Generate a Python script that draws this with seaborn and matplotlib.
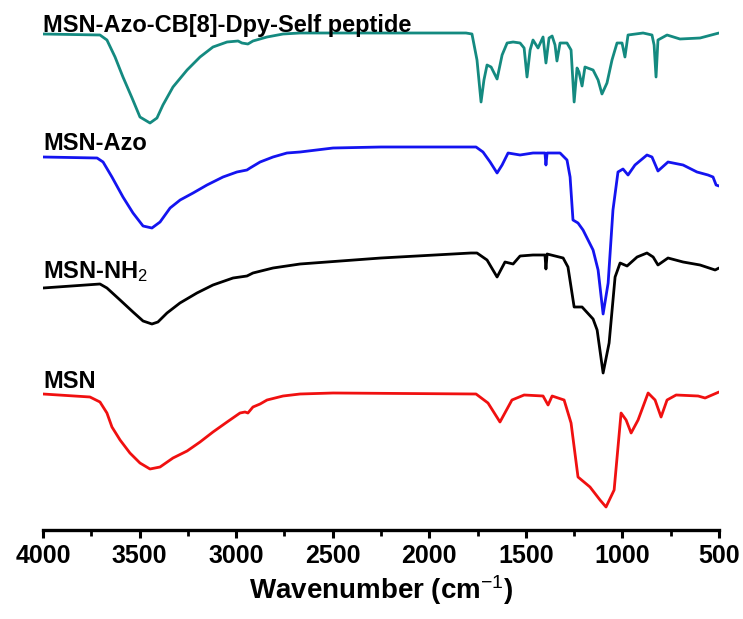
import numpy as np
import pandas as pd
import matplotlib
matplotlib.use("Agg")
import matplotlib.pyplot as plt
from matplotlib.ticker import MultipleLocator
import seaborn as sns

# ---- data (transmittance in arbitrary offset units) ----
labels = ["MSN-Azo-CB[8]-Dpy-Self peptide", "MSN-Azo", "MSN-NH$_2$", "MSN"]

peptide_wn = [4000, 3705, 3669, 3627, 3586, 3539, 3498, 3446, 3410, 3379, 3327, 3254, 3187, 3120,
              3047, 2990, 2970, 2939, 2913, 2840, 2757, 2669,
              1810, 1779, 1753, 1732, 1717, 1701, 1680, 1649, 1623, 1597, 1566, 1530, 1509, 1494,
              1478, 1463, 1437, 1411, 1396, 1380, 1364, 1349, 1339, 1323, 1287, 1266, 1250, 1235,
              1225, 1209, 1194, 1152, 1126, 1106, 1080, 1054, 1028, 1002, 987, 971, 893, 847, 836,
              826, 816, 769, 702, 598, 520, 500]
peptide_t = [506, 505, 500, 483, 463, 442, 423, 417, 422, 435, 453, 470, 483, 493,
             498, 499, 497, 496, 499, 503, 506, 507,
             507, 506, 480, 438, 460, 475, 473, 461, 485, 497, 498, 497, 492, 463,
             490, 500, 492, 503, 477, 502, 504, 495, 479, 497, 497, 490, 438, 472,
             468, 454, 473, 470, 460, 446, 457, 480, 497, 497, 483, 505, 507, 505, 495,
             463, 500, 505, 501, 502, 506, 507]

azo_wn = [4000, 3720, 3689, 3643, 3586, 3534, 3482, 3436, 3394, 3342, 3290, 3223, 3151, 3068,
          2996, 2944, 2928, 2876, 2809, 2737, 2669, 2498, 2250,
          1758, 1722, 1685, 1649, 1623, 1592, 1530, 1463, 1401, 1396, 1390, 1323,
          1287, 1271, 1256, 1230, 1204, 1152, 1126, 1100, 1074, 1049, 1023, 997, 971, 935,
          873, 847, 816, 764, 686, 614, 557, 531, 515, 500]
azo_t = [383, 382, 378, 363, 343, 327, 314, 312, 318, 332, 340, 347, 355, 363,
         368, 370, 372, 378, 383, 387, 388, 392, 393,
         393, 388, 378, 367, 375, 387, 385, 387, 387, 375, 387, 387,
         380, 363, 320, 317, 310, 290, 270, 226, 257, 330, 368, 371, 365, 375,
         385, 383, 369, 378, 375, 368, 365, 363, 355, 354]

nh2_wn = [4000, 3705, 3669, 3601, 3534, 3482, 3436, 3405, 3358, 3291, 3203, 3120, 3016, 2944,
          2913, 2809, 2669, 2250, 1784, 1753,
          1701, 1649, 1608, 1566, 1530, 1463, 1401, 1396, 1390, 1307, 1282, 1250, 1209, 1152,
          1131, 1100, 1069, 1038, 1012, 976, 924, 873, 841, 816, 764, 686, 598, 520, 500]
nh2_t = [252, 256, 252, 240, 228, 219, 216, 218, 227, 237, 247, 255, 262, 264,
         267, 272, 276, 282, 287, 287,
         280, 263, 278, 276, 284, 285, 285, 271, 286, 282, 273, 233, 233, 221,
         210, 167, 197, 263, 277, 274, 283, 287, 283, 275, 282, 278, 275, 270, 272]

msn_wn = [4000, 3757, 3705, 3669, 3643, 3601, 3550, 3498, 3446, 3394, 3327, 3254, 3187, 3120,
          3047, 2980, 2954, 2939, 2913, 2876, 2840, 2757, 2669, 2498,
          1758, 1696, 1634, 1572, 1509, 1411, 1385, 1364, 1302, 1266, 1230, 1168, 1116, 1085,
          1043, 1007, 981, 955, 919, 867, 831, 800, 769, 722, 608, 572, 536, 500]
msn_t = [146, 143, 138, 127, 113, 100, 87, 77, 71, 73, 82, 89, 98, 108,
         118, 127, 128, 127, 133, 136, 140, 144, 146, 147,
         146, 137, 118, 140, 145, 144, 135, 144, 140, 117, 63, 53, 40, 33,
         50, 127, 120, 107, 120, 147, 140, 123, 140, 145, 144, 142, 145, 148]

colors = ["#148a80", "#1414f0", "#000000", "#f01010"]
label_y = [508, 390, 262, 152]

# ---- build long-form table ----
frames = []
for name, wn, t in zip(labels, [peptide_wn, azo_wn, nh2_wn, msn_wn],
                       [peptide_t, azo_t, nh2_t, msn_t]):
    frames.append(pd.DataFrame({"wn": wn, "T": t, "sample": name}))
df = pd.concat(frames, ignore_index=True)

sns.set_theme(style="white")
plt.rcParams["font.family"] = ["Liberation Sans", "DejaVu Sans"]
plt.rcParams["mathtext.fontset"] = "custom"
plt.rcParams["mathtext.rm"] = "Liberation Sans"
plt.rcParams["mathtext.it"] = "Liberation Sans:italic"
plt.rcParams["mathtext.bf"] = "Liberation Sans:bold"
plt.rcParams["text.color"] = "black"
plt.rcParams["axes.labelcolor"] = "black"

fig = plt.figure(figsize=(7.43, 6.19), dpi=100)
ax = fig.add_axes([43 / 743, 1 - 530 / 619, (719 - 43) / 743, 530 / 619])

sns.lineplot(data=df, x="wn", y="T", hue="sample", palette=dict(zip(labels, colors)),
             sort=False, estimator=None, legend=False, linewidth=2.0, ax=ax)
for line in ax.get_lines():
    line.set_solid_joinstyle("round")
    line.set_solid_capstyle("round")

ax.set_xlim(4000, 500)
ax.set_ylim(10, 540)
ax.set_yticks([])
ax.set_ylabel("")
for s in ["left", "right", "top"]:
    ax.spines[s].set_visible(False)
ax.spines["bottom"].set_linewidth(2.4)
ax.spines["bottom"].set_color("black")

ax.xaxis.set_major_locator(MultipleLocator(500))
ax.xaxis.set_minor_locator(MultipleLocator(250))
ax.tick_params(axis="x", which="major", direction="out", length=6, width=2.2,
               bottom=True, labelsize=18, pad=4, colors="black")
ax.tick_params(axis="x", which="minor", direction="out", length=4, width=2.0, bottom=True,
               colors="black")
for lab in ax.get_xticklabels():
    lab.set_fontweight("bold")

ax.set_xlabel("Wavenumber (cm$^{-1}$)", fontsize=20, fontweight="bold", labelpad=4,
              color="black")

for name, y in zip(labels, label_y):
    ax.text(4000, y, name, fontsize=17, fontweight="bold", ha="left", va="baseline",
            color="black")

fig.savefig("out.png", dpi=100)
